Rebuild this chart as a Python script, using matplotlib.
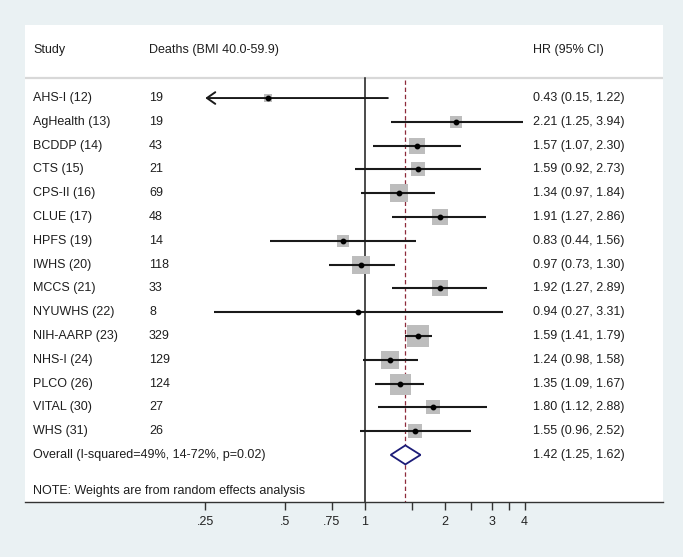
import matplotlib
matplotlib.use("Agg")
import matplotlib.pyplot as plt
import matplotlib.transforms as mtransforms
from matplotlib.patches import Polygon

plt.rcParams['font.family'] = ['Liberation Sans', 'DejaVu Sans']

studies = ["AHS-I (12)", "AgHealth (13)", "BCDDP (14)", "CTS (15)", "CPS-II (16)",
           "CLUE (17)", "HPFS (19)", "IWHS (20)", "MCCS (21)", "NYUWHS (22)",
           "NIH-AARP (23)", "NHS-I (24)", "PLCO (26)", "VITAL (30)", "WHS (31)"]
deaths = [19, 19, 43, 21, 69, 48, 14, 118, 33, 8, 329, 129, 124, 27, 26]
hr = [0.43, 2.21, 1.57, 1.59, 1.34, 1.91, 0.83, 0.97, 1.92, 0.94, 1.59, 1.24, 1.35, 1.80, 1.55]
lo = [0.15, 1.25, 1.07, 0.92, 0.97, 1.27, 0.44, 0.73, 1.27, 0.27, 1.41, 0.98, 1.09, 1.12, 0.96]
hi = [1.22, 3.94, 2.30, 2.73, 1.84, 2.86, 1.56, 1.30, 2.89, 3.31, 1.79, 1.58, 1.67, 2.88, 2.52]
weights = [1.4, 4.1, 7.3, 4.8, 8.2, 6.4, 4.1, 9.2, 6.4, 0.7, 13.7, 10.2, 12.5, 5.6, 5.6]
overall_hr, overall_lo, overall_hi = 1.42, 1.25, 1.62
overall_label = "Overall (I-squared=49%, 14-72%, p=0.02)"
note = "NOTE: Weights are from random effects analysis"
header_study = "Study"
header_deaths = "Deaths (BMI 40.0-59.9)"
header_hr = "HR (95% CI)"
tick_vals = [0.25, 0.5, 0.75, 1, 1.5, 2, 2.5, 3, 3.5, 4]
tick_labels = [".25", ".5", ".75", "1", "", "2", "", "3", "", "4"]

W, H = 683, 557
fig = plt.figure(figsize=(W / 100, H / 100), dpi=100)
fig.patch.set_facecolor("#eaf1f3")
ax = fig.add_axes([25 / W, (H - 502) / H, 638 / W, 477 / H])
ax.set_facecolor("white")
ax.set_xscale("log")
ax.set_xlim(0.0523, 13.29)
ax.set_ylim(16.98, -3.07)

for s in ["left", "right", "top"]:
    ax.spines[s].set_visible(False)
ax.spines["bottom"].set_color("#333333")
ax.spines["bottom"].set_linewidth(1.0)
ax.set_yticks([])
ax.xaxis.set_minor_locator(matplotlib.ticker.NullLocator())
ax.set_xticks(tick_vals)
ax.set_xticklabels(tick_labels)
ax.tick_params(axis="x", direction="out", length=5.5, width=1.0, color="#333333",
               labelsize=9, labelcolor="#222222", pad=4.5)

txtc = "#1e1e1e"
fs = 9
trans = mtransforms.blended_transform_factory(ax.transAxes, ax.transData)
x_study, x_deaths, x_hr = 8 / 638, 124 / 638, 508 / 638

ax.text(x_study, -2.0, header_study, transform=trans, ha="left", va="center", fontsize=fs, color=txtc)
ax.text(x_deaths, -2.0, header_deaths, transform=trans, ha="left", va="center", fontsize=fs, color=txtc)
ax.text(x_hr, -2.0, header_hr, transform=trans, ha="left", va="center", fontsize=fs, color=txtc)

# separator
ax.axhline(-0.84, color="#d8d8d8", lw=1.6, zorder=1)

# reference lines
ax.plot([1, 1], [-0.84, 16.98], color="#1a1a1a", lw=1.1, zorder=2, clip_on=False)
ax.plot([overall_hr, overall_hr], [-0.75, 16.98], color="#8e2a3a", lw=0.9,
        linestyle=(0, (3.5, 2.2)), zorder=2)

xmin_plot = tick_vals[0]
for i in range(len(studies)):
    y = i
    ax.text(x_study, y, studies[i], transform=trans, ha="left", va="center", fontsize=fs, color=txtc)
    ax.text(x_deaths, y, str(deaths[i]), transform=trans, ha="left", va="center", fontsize=fs, color=txtc)
    ax.text(x_hr, y, f"{hr[i]:.2f} ({lo[i]:.2f}, {hi[i]:.2f})", transform=trans,
            ha="left", va="center", fontsize=fs, color=txtc)
    side_px = (weights[i] * 35.28) ** 0.5
    ax.plot([hr[i]], [y], marker="s", markersize=side_px * 0.72, color="#bdbdbd",
            mew=0, zorder=3, linestyle="none")
    if lo[i] < xmin_plot:
        ax.annotate("", xy=(xmin_plot, y), xytext=(hi[i], y),
                    arrowprops=dict(arrowstyle="->,head_length=0.6,head_width=0.42",
                                    lw=1.4, color="#1a1a1a", shrinkA=0, shrinkB=0),
                    zorder=4)
    else:
        ax.plot([lo[i], hi[i]], [y, y], color="#1a1a1a", lw=1.5, zorder=4,
                solid_capstyle="butt")
    ax.plot([hr[i]], [y], marker="o", markersize=3.2, color="black", zorder=5,
            linestyle="none")

# overall
yo = 15
ax.text(x_study, yo, overall_label, transform=trans, ha="left", va="center", fontsize=fs, color=txtc)
ax.text(x_hr, yo, f"{overall_hr:.2f} ({overall_lo:.2f}, {overall_hi:.2f})", transform=trans,
        ha="left", va="center", fontsize=fs, color=txtc)
dia = Polygon([(overall_lo, yo), (overall_hr, yo - 0.4), (overall_hi, yo), (overall_hr, yo + 0.4)],
              closed=True, facecolor="white", edgecolor="#1c1c78", lw=1.3, zorder=5)
ax.add_patch(dia)

ax.text(x_study, 16.5, note, transform=trans, ha="left", va="center", fontsize=fs, color=txtc)

fig.savefig("out.png", dpi=100, facecolor=fig.get_facecolor())
